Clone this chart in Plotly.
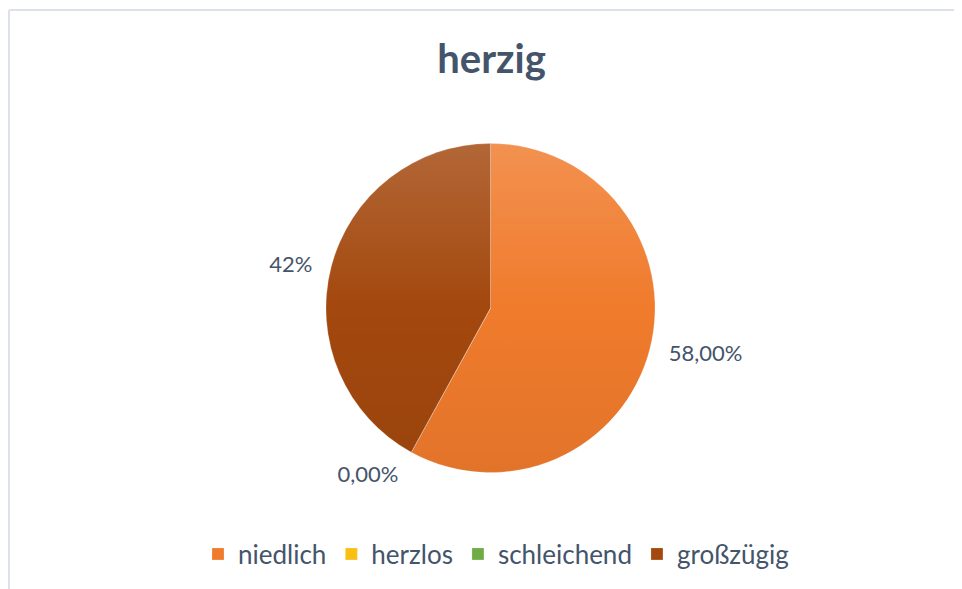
import base64
import plotly.graph_objects as go

# ---- data ----
categories = ["niedlich", "herzlos", "schleichend", "großzügig"]
values = [58, 0, 0, 42]
data_labels = ["58,00%", "0,00%", "", "42%"]
colors = ["#F07B2C", "#F9C013", "#6EAC46", "#A3480E"]
title_text = "herzig"

# page body has an 8px margin, so the figure fills the rest of the window
W, H = 954, 581
TXT = "#44546A"
FONT = "Lato"
BORDER = "#DCE1EA"

# pie geometry (figure pixels)
cx, cy, r = 482.5, 300.0, 164.5
r_lab = 177.0


def dom(rad):
    return dict(
        x=[(cx - rad) / W, (cx + rad) / W],
        y=[1 - (cy + rad) / H, 1 - (cy - rad) / H],
    )


fig = go.Figure()

fig.add_trace(go.Pie(
    labels=categories,
    values=values,
    sort=False,
    direction="clockwise",
    rotation=0,
    marker=dict(colors=colors, line=dict(color="rgba(255,255,255,0.3)", width=0.7)),
    textinfo="none",
    hoverinfo="label+percent",
    domain=dom(r),
    showlegend=True,
))

# label layer: same data, transparent slices, only the outside data labels
fig.add_trace(go.Pie(
    labels=categories,
    values=values,
    sort=False,
    direction="clockwise",
    rotation=0,
    marker=dict(colors=["rgba(0,0,0,0)"] * len(categories), line=dict(width=0)),
    text=data_labels,
    textinfo="text",
    texttemplate="%{text}",
    textposition="outside",
    outsidetextfont=dict(family=FONT, size=22, color=TXT),
    hoverinfo="skip",
    domain=dom(r_lab),
    showlegend=False,
))

# soft vertical gradient overlay on the pie disc
svg = (
    '<svg xmlns="http://www.w3.org/2000/svg" viewBox="0 0 100 100" '
    'preserveAspectRatio="none" width="100" height="100">'
    '<defs><linearGradient id="g" x1="0" y1="0" x2="0" y2="1">'
    '<stop offset="0" stop-color="#ffffff" stop-opacity="0.17"/>'
    '<stop offset="0.5" stop-color="#ffffff" stop-opacity="0"/>'
    '<stop offset="0.5" stop-color="#000000" stop-opacity="0"/>'
    '<stop offset="1" stop-color="#000000" stop-opacity="0.06"/>'
    '</linearGradient></defs>'
    '<circle cx="50" cy="50" r="50" fill="url(#g)"/></svg>'
)
src = "data:image/svg+xml;base64," + base64.b64encode(svg.encode()).decode()
d = dom(r)

fig.update_layout(
    width=W,
    height=H,
    margin=dict(l=0, r=0, t=0, b=0),
    paper_bgcolor="white",
    plot_bgcolor="white",
    font=dict(family=FONT, color=TXT),
    title=dict(
        text="<b>" + title_text + "</b>",
        x=483.5 / W, xanchor="center", xref="paper",
        y=1 - 51 / H, yanchor="middle", yref="paper",
        font=dict(family=FONT, size=40, color=TXT),
    ),
    legend=dict(
        orientation="h",
        x=488 / W, xanchor="center",
        y=1 - 546 / H, yanchor="middle",
        font=dict(family=FONT, size=26, color=TXT),
        itemwidth=30,
        traceorder="normal",
    ),
    images=[dict(
        source=src, xref="paper", yref="paper",
        x=d["x"][0], y=d["y"][1],
        sizex=d["x"][1] - d["x"][0], sizey=d["y"][1] - d["y"][0],
        xanchor="left", yanchor="top", sizing="stretch", layer="above",
    )],
    shapes=[
        dict(type="line", xref="paper", yref="paper",
             x0=1 / W, x1=1.2, y0=1 - 2 / H, y1=1 - 2 / H,
             line=dict(color=BORDER, width=2), layer="below"),
        dict(type="line", xref="paper", yref="paper",
             x0=1 / W, x1=1 / W, y0=-0.2, y1=1 - 2 / H,
             line=dict(color=BORDER, width=2), layer="below"),
    ],
)

fig.write_html("out.html")
